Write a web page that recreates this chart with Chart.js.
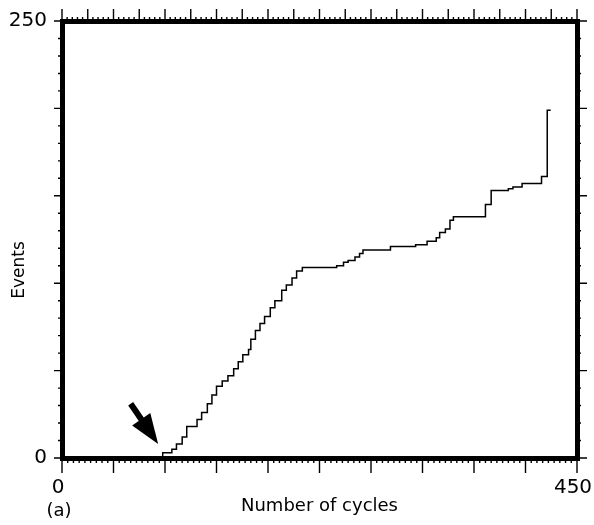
<!DOCTYPE html>
<html>
<head>
<meta charset="utf-8">
<script src="https://cdn.jsdelivr.net/npm/chart.js@4.4.1/dist/chart.umd.min.js"></script>
<style>
  html, body { margin: 0; padding: 0; background: #fff; }
  #wrap { width: 594px; height: 525px; }
</style>
</head>
<body>
<div id="wrap"><canvas id="dataChart" width="594" height="525"></canvas></div>
<script>
// staircase curve: cycle where each level starts, and the events count at that level
const cycles = [0, 88, 96, 100, 105, 109, 118, 122, 127, 131, 135, 140, 145, 150, 154, 158,
    163, 165, 169, 173, 177, 182, 186, 192, 196, 201, 205, 210, 240, 246, 250, 256, 260, 263,
    287, 309, 319, 327, 330, 335, 339, 342, 370, 375, 390, 394, 402, 419, 424, 427];
const events = [0, 3, 5, 8, 12, 18, 22, 26, 31, 36, 41, 44, 47, 51, 55, 59,
    62, 68, 73, 77, 81, 86, 90, 96, 99, 103, 107, 109, 110, 112, 113, 115, 117, 119,
    121, 122, 124, 126, 129, 131, 136, 138, 145, 153, 154, 155, 157, 161, 199, 199];

const xTickLabels = [0, 450];
const yTickLabels = [0, 250];
const xTitle = 'Number of cycles';
const yTitle = 'Events';
const panelLabel = '(a)';

// arrow pointing at the onset (data units)
const arrowTail = { x: 60, y: 31 };
const arrowTip = { x: 84, y: 8 };

const FONT = '"DejaVu Sans", sans-serif';

const isMultiple = (v, step) => Math.abs(v / step - Math.round(v / step)) < 1e-6;

// little tick marks round the frame, long ones on the major steps
const tickMarks = {
    id: 'tickMarks',
    afterDraw(chart) {
        const { ctx, chartArea: a, scales } = chart;
        ctx.save();
        ctx.strokeStyle = '#000';
        ctx.lineWidth = 1.4;
        ctx.beginPath();

        // bottom
        for (let i = 0; i <= 90; i++) {
            const v = i * 5;
            const px = scales.x.getPixelForValue(v);
            const len = isMultiple(v, 45) ? 15 : 5;
            ctx.moveTo(px, a.bottom); ctx.lineTo(px, a.bottom + len);
        }
        // top
        for (let i = 0; i <= 100; i++) {
            const v = i * 4.5;
            const px = scales.xTop.getPixelForValue(v);
            const len = isMultiple(v, 22.5) ? 12 : 4;
            ctx.moveTo(px, a.top); ctx.lineTo(px, a.top - len);
        }
        // left and right
        for (let i = 0; i <= 25; i++) {
            const v = i * 10;
            const py = scales.y.getPixelForValue(v);
            const major = isMultiple(v, 50);
            ctx.moveTo(a.left, py); ctx.lineTo(a.left - (major ? 8 : 4), py);
            ctx.moveTo(a.right, py); ctx.lineTo(a.right + (major ? 10 : 4), py);
        }
        ctx.stroke();
        ctx.restore();
    }
};

const extras = {
    id: 'extras',
    afterDraw(chart) {
        const { ctx, scales } = chart;
        ctx.save();

        // arrow
        const tx = scales.x.getPixelForValue(arrowTail.x);
        const ty = scales.y.getPixelForValue(arrowTail.y);
        const hx = scales.x.getPixelForValue(arrowTip.x);
        const hy = scales.y.getPixelForValue(arrowTip.y);
        const len = Math.hypot(hx - tx, hy - ty);
        const ux = (hx - tx) / len, uy = (hy - ty) / len;
        const headLen = 30, headHalf = 11;
        const bx = hx - ux * headLen, by = hy - uy * headLen;
        ctx.strokeStyle = '#000';
        ctx.fillStyle = '#000';
        ctx.lineWidth = 6;
        ctx.beginPath();
        ctx.moveTo(tx, ty);
        ctx.lineTo(bx + ux * 4, by + uy * 4);
        ctx.stroke();
        ctx.beginPath();
        ctx.moveTo(hx, hy);
        ctx.lineTo(bx - uy * headHalf, by + ux * headHalf);
        ctx.lineTo(bx + uy * headHalf, by - ux * headHalf);
        ctx.closePath();
        ctx.fill();

        // y title and panel label
        ctx.font = '18px ' + FONT;
        ctx.textAlign = 'center';
        ctx.textBaseline = 'middle';
        ctx.fillText(panelLabel, 59, 511);
        ctx.font = '17px ' + FONT;
        ctx.translate(20, 270);
        ctx.rotate(-Math.PI / 2);
        ctx.fillText(yTitle, 0, 0);
        ctx.restore();
    }
};

const frameBorder = { display: true, width: 5, color: '#000' };
const noGrid = { display: false, drawTicks: false, lineWidth: 5 };

const points = cycles.map((c, i) => ({ x: c, y: events[i] }));

const config = {
    type: 'line',
    data: {
        datasets: [{
            data: points,
            stepped: true,
            borderColor: '#000',
            borderWidth: 1.5,
            pointRadius: 0,
            fill: false
        }]
    },
    options: {
        responsive: false,
        animation: false,
        devicePixelRatio: 1,
        layout: { padding: 0 },
        plugins: { legend: { display: false }, tooltip: { enabled: false } },
        scales: {
            x: {
                type: 'linear', position: 'bottom', min: 0, max: 450,
                grid: noGrid, border: frameBorder,
                ticks: { color: '#000', font: { size: 20, family: FONT }, padding: 18, labelOffset: -4, autoSkip: false, maxRotation: 0 },
                title: { display: true, text: xTitle, color: '#000', font: { size: 18, family: FONT }, padding: { top: 0, bottom: 8 } },
                afterBuildTicks: (s) => { s.ticks = xTickLabels.map(v => ({ value: v })); },
                afterFit: (s) => { s.height = 67; s.paddingLeft = 0; s.paddingRight = 0; }
            },
            xTop: {
                type: 'linear', position: 'top', min: 0, max: 450,
                grid: noGrid, border: frameBorder,
                ticks: { display: false },
                afterFit: (s) => { s.height = 21; s.paddingLeft = 0; s.paddingRight = 0; }
            },
            y: {
                type: 'linear', position: 'left', min: 0, max: 250,
                grid: noGrid, border: frameBorder,
                ticks: { color: '#000', font: { size: 20, family: FONT }, padding: 15, autoSkip: false },
                afterBuildTicks: (s) => { s.ticks = yTickLabels.map(v => ({ value: v })); },
                afterFit: (s) => { s.width = 62; s.paddingTop = 0; s.paddingBottom = 0; }
            },
            yRight: {
                type: 'linear', position: 'right', min: 0, max: 250,
                grid: noGrid, border: frameBorder,
                ticks: { display: false },
                afterFit: (s) => { s.width = 17; s.paddingTop = 0; s.paddingBottom = 0; }
            }
        }
    },
    plugins: [tickMarks, extras]
};

const dataChart = new Chart(document.getElementById('dataChart'), config);
</script>
</body>
</html>
